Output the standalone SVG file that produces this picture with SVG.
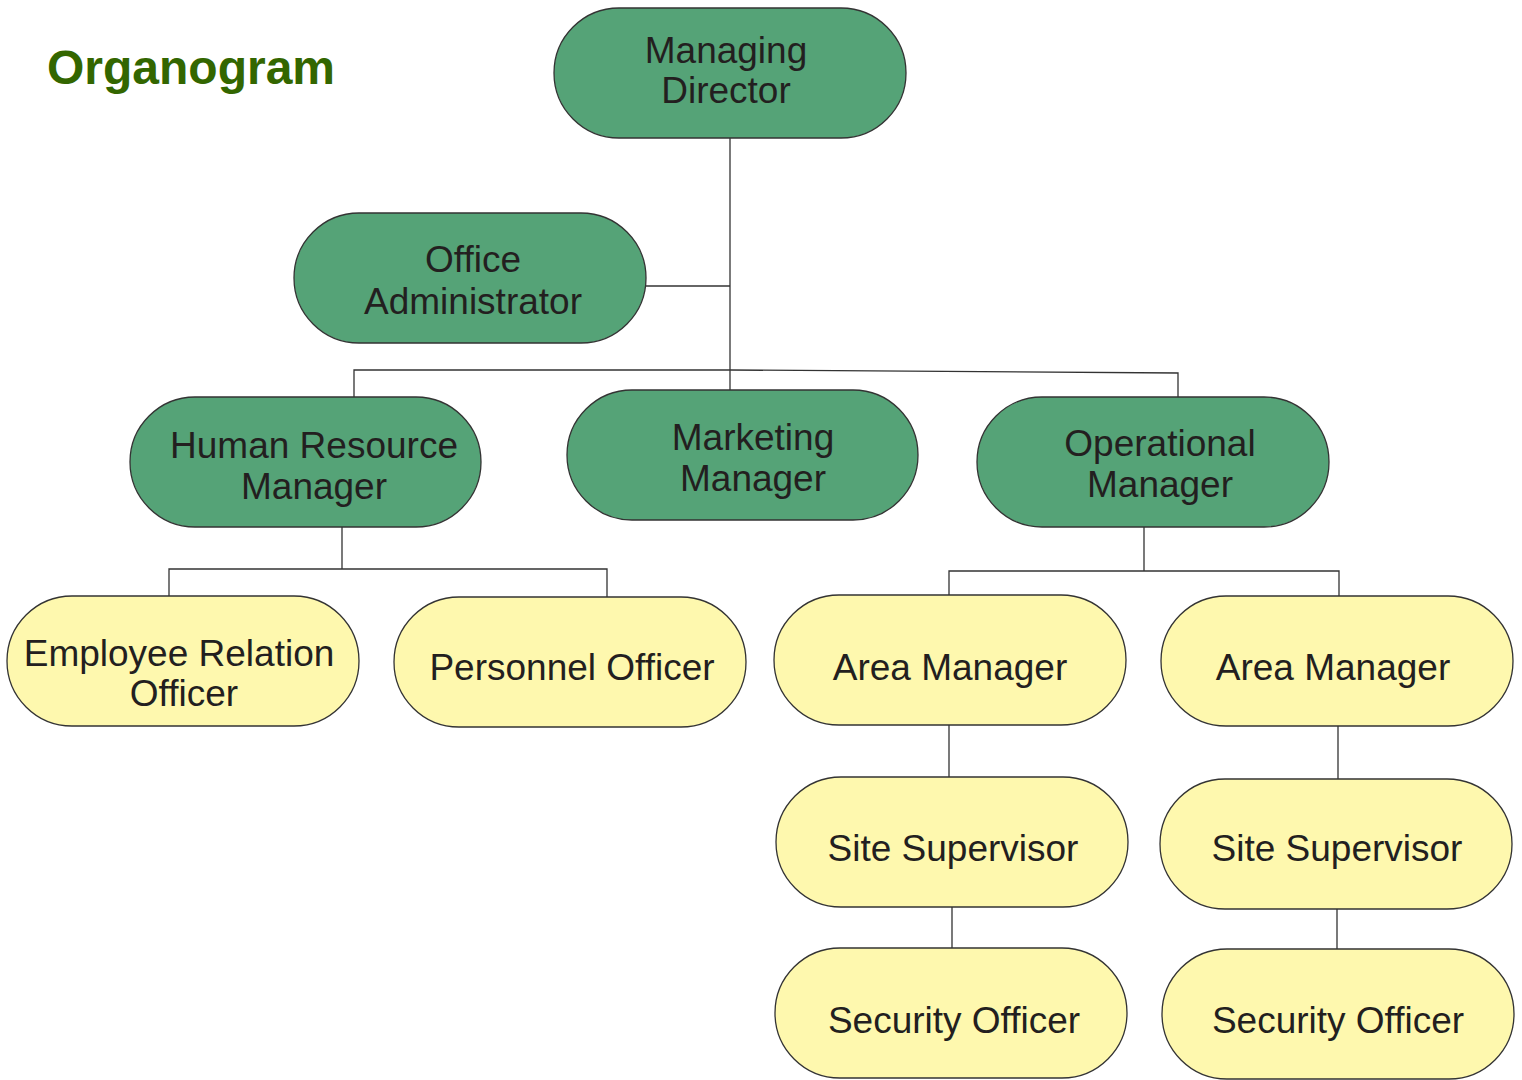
<svg xmlns="http://www.w3.org/2000/svg" width="1522" height="1080" viewBox="0 0 1522 1080">
<style>
.g{fill:#55a377;stroke:#333;stroke-width:1.3}
.y{fill:#fef8ae;stroke:#333;stroke-width:1.3}
.t{font-family:"Liberation Sans",Arial,sans-serif;font-size:37px;fill:#231f20;text-anchor:middle}
.c{fill:none;stroke:#333;stroke-width:1.3}
</style>
<rect width="1522" height="1080" fill="#fff"/>
<text x="47" y="84" font-family="'Liberation Sans',Arial,sans-serif" font-size="48" font-weight="bold" fill="#336600">Organogram</text>
<g id="connectors">
<path class="c" d="M730,138V390"/>
<path class="c" d="M646,286H730"/>
<path class="c" d="M354,397V370H730L1178,373V397"/>
<path class="c" d="M342,527V569M169,596V569H607V597"/>
<path class="c" d="M1144,527V571M949,595V571H1339V596"/>
<path class="c" d="M949,725V777M1338,726V779"/>
<path class="c" d="M952,907V948M1337,909V949"/>
</g>
<g id="md"><rect class="g" x="554" y="8" width="352" height="130" rx="65"/><text class="t" x="726" y="63">Managing</text><text class="t" x="726" y="103">Director</text></g>
<g id="oa"><rect class="g" x="294" y="213" width="352" height="130" rx="65"/><text class="t" x="473" y="272">Office</text><text class="t" x="473" y="314">Administrator</text></g>
<g id="hr"><rect class="g" x="130" y="397" width="351" height="130" rx="65"/><text class="t" x="314" y="458">Human Resource</text><text class="t" x="314" y="499">Manager</text></g>
<g id="mm"><rect class="g" x="567" y="390" width="351" height="130" rx="65"/><text class="t" x="753" y="450">Marketing</text><text class="t" x="753" y="491">Manager</text></g>
<g id="om"><rect class="g" x="977" y="397" width="352" height="130" rx="65"/><text class="t" x="1160" y="456">Operational</text><text class="t" x="1160" y="497">Manager</text></g>
<g id="ero"><rect class="y" x="7" y="596" width="352" height="130" rx="65"/><text class="t" x="179" y="666">Employee Relation</text><text class="t" x="184" y="706">Officer</text></g>
<g id="po"><rect class="y" x="394" y="597" width="352" height="130" rx="65"/><text class="t" x="572" y="680">Personnel Officer</text></g>
<g id="am1"><rect class="y" x="774" y="595" width="352" height="130" rx="65"/><text class="t" x="950" y="680">Area Manager</text></g>
<g id="am2"><rect class="y" x="1161" y="596" width="352" height="130" rx="65"/><text class="t" x="1333" y="680">Area Manager</text></g>
<g id="ss1"><rect class="y" x="776" y="777" width="352" height="130" rx="65"/><text class="t" x="953" y="861">Site Supervisor</text></g>
<g id="ss2"><rect class="y" x="1160" y="779" width="352" height="130" rx="65"/><text class="t" x="1337" y="861">Site Supervisor</text></g>
<g id="so1"><rect class="y" x="775" y="948" width="352" height="130" rx="65"/><text class="t" x="954" y="1033">Security Officer</text></g>
<g id="so2"><rect class="y" x="1162" y="949" width="352" height="130" rx="65"/><text class="t" x="1338" y="1033">Security Officer</text></g>
</svg>
